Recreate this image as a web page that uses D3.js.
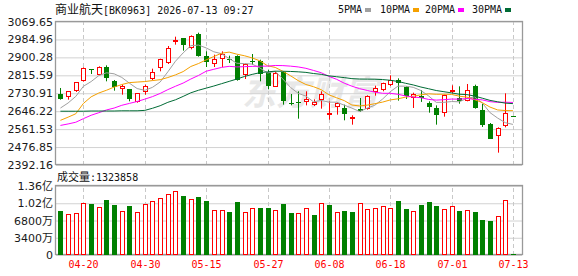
<!DOCTYPE html>
<html>
<head>
<meta charset="utf-8">
<script src="https://cdn.jsdelivr.net/npm/d3@7"></script>
<style>
body { margin: 0; background: #fff; }
text { font-family: "DejaVu Sans", sans-serif; }
</style>
</head>
<body>
<script>
const width = 578;
const height = 276;

// trading days shown
const dates = [
    "04-15", "04-16", "04-17", "04-20", "04-21", "04-22", "04-23", "04-24", "04-27", "04-28",
    "04-29", "04-30", "05-06", "05-07", "05-08", "05-11", "05-12", "05-13", "05-14", "05-15",
    "05-18", "05-19", "05-20", "05-21", "05-22", "05-25", "05-26", "05-27", "05-28", "05-29",
    "06-01", "06-02", "06-03", "06-04", "06-05", "06-08", "06-09", "06-10", "06-11", "06-12",
    "06-15", "06-16", "06-17", "06-18", "06-22", "06-23", "06-24", "06-25", "06-26", "06-29",
    "06-30", "07-01", "07-02", "07-03", "07-06", "07-07", "07-08", "07-09", "07-10", "07-13"
];
const tickDates = ["04-20", "04-30", "05-15", "05-27", "06-08", "06-18", "07-01", "07-13"];

const opens = [
    2727.4, 2711.6, 2740.0, 2787.2, 2843.8, 2818.6, 2856.4, 2787.2, 2749.4, 2751.0,
    2689.6, 2737.0, 2795.0, 2847.0, 2872.2, 2976.0, 2991.7, 2944.5, 3010.6, 2905.2,
    2869.0, 2891.0, 2891.0, 2906.8, 2818.6, 2884.7, 2884.7, 2831.2, 2760.4, 2831.2,
    2683.3, 2691.2, 2686.4, 2677.0, 2699.0, 2636.1, 2667.6, 2661.3, 2607.8, 2656.6,
    2656.6, 2733.7, 2746.3, 2766.7, 2795.0, 2760.4, 2705.3, 2716.0, 2684.9, 2661.3,
    2636.1, 2733.7, 2708.5, 2692.8, 2763.6, 2651.8, 2585.7, 2527.5, 2573.1, 2621.9
];
const highs = [
    2755.7, 2741.0, 2784.0, 2853.0, 2844.5, 2858.0, 2862.7, 2793.5, 2771.4, 2751.0,
    2732.0, 2771.4, 2847.0, 2894.0, 2954.0, 2998.0, 2991.7, 3004.3, 3016.9, 2928.8,
    2913.1, 2928.8, 2908.3, 2910.0, 2870.6, 2916.2, 2889.4, 2842.3, 2834.4, 2834.4,
    2727.4, 2740.0, 2740.0, 2702.2, 2740.0, 2692.8, 2689.6, 2677.0, 2626.7, 2708.5,
    2721.0, 2766.7, 2780.9, 2815.5, 2801.3, 2763.6, 2733.7, 2746.0, 2692.8, 2673.8,
    2724.2, 2768.3, 2763.6, 2774.6, 2771.4, 2680.1, 2590.4, 2570.0, 2730.5, 2621.9
];
const lows = [
    2700.6, 2700.6, 2737.0, 2785.6, 2821.8, 2817.0, 2787.2, 2743.1, 2724.2, 2692.8,
    2686.4, 2724.2, 2792.0, 2834.4, 2869.0, 2960.3, 2932.0, 2938.2, 2903.6, 2854.8,
    2854.8, 2854.8, 2873.7, 2790.3, 2798.2, 2866.0, 2787.2, 2749.4, 2760.4, 2677.0,
    2673.8, 2610.9, 2673.8, 2670.7, 2658.1, 2606.2, 2629.8, 2603.1, 2582.6, 2642.4,
    2653.4, 2719.5, 2740.0, 2765.1, 2695.9, 2703.8, 2661.3, 2690.0, 2639.2, 2582.6,
    2620.4, 2730.5, 2681.7, 2692.8, 2658.1, 2571.6, 2516.5, 2450.4, 2570.0, 2620.4
];
const closes = [
    2705.3, 2740.0, 2782.4, 2850.1, 2842.3, 2856.4, 2806.0, 2758.8, 2765.1, 2705.3,
    2730.5, 2763.6, 2829.6, 2891.0, 2944.5, 2982.3, 2960.3, 2999.6, 2905.2, 2876.9,
    2891.0, 2916.2, 2884.7, 2793.5, 2869.0, 2880.0, 2824.9, 2766.7, 2826.5, 2692.8,
    2680.1, 2686.4, 2702.2, 2689.6, 2727.4, 2639.2, 2684.9, 2633.0, 2618.8, 2647.1,
    2719.5, 2754.1, 2777.7, 2791.9, 2779.3, 2719.5, 2725.8, 2708.0, 2664.4, 2626.6,
    2721.1, 2744.7, 2695.9, 2744.7, 2661.3, 2579.4, 2516.5, 2566.8, 2636.1, 2620.4
];
// volume in 亿
const volumes = [
    0.865, 0.812, 0.825, 1.017, 1.003, 0.944, 1.083, 0.990, 0.865, 0.964,
    0.845, 1.003, 1.063, 1.122, 1.202, 1.261, 1.162, 1.102, 1.149, 1.063,
    0.885, 0.885, 0.845, 1.043, 0.845, 0.924, 0.924, 0.924, 0.885, 1.003,
    0.830, 0.819, 0.918, 0.786, 1.017, 0.990, 0.845, 0.865, 0.845, 1.017,
    0.898, 0.918, 0.957, 0.918, 1.063, 0.904, 0.865, 0.984, 1.043, 0.964,
    0.898, 0.964, 0.865, 0.878, 0.845, 0.687, 0.667, 0.766, 1.083, 0.020
];

const ma5 = [
    2661, 2685, 2716, 2764, 2786, 2814.2, 2827.4, 2822.7, 2805.7, 2778.3,
    2753.1, 2744.7, 2758.8, 2784.0, 2831.8, 2882.2, 2921.5, 2955.5, 2958.4, 2944.9,
    2926.6, 2917.8, 2894.8, 2872.5, 2870.9, 2868.7, 2850.4, 2826.8, 2833.4, 2798.2,
    2758.2, 2730.5, 2717.6, 2690.2, 2697.1, 2689.0, 2688.7, 2674.8, 2660.7, 2644.6,
    2660.7, 2674.5, 2703.4, 2738.1, 2764.5, 2764.5, 2758.8, 2743.7, 2718.2, 2687.7,
    2688.0, 2691.8, 2690.5, 2706.6, 2713.5, 2685.2, 2639.6, 2613.7, 2592.0, 2583.8
];
const ma10 = [
    2603, 2618, 2634, 2683, 2714, 2732, 2745, 2760, 2772, 2781.2,
    2783.7, 2786.1, 2790.8, 2794.9, 2805.1, 2817.7, 2833.1, 2857.2, 2871.2, 2888.4,
    2904.4, 2919.7, 2925.2, 2915.4, 2907.9, 2897.6, 2884.1, 2860.8, 2852.9, 2834.5,
    2813.4, 2790.5, 2772.2, 2761.8, 2747.7, 2723.6, 2709.6, 2696.2, 2675.4, 2670.9,
    2674.8, 2681.6, 2689.1, 2699.4, 2704.6, 2712.6, 2716.7, 2723.6, 2728.2, 2726.1,
    2726.3, 2725.3, 2717.1, 2712.4, 2700.6, 2686.6, 2665.7, 2652.1, 2649.3, 2648.7
];
const ma20 = [
    2579, 2586, 2594, 2611, 2627, 2639, 2652, 2661, 2674, 2683,
    2692, 2703, 2715, 2730, 2748, 2764, 2779, 2798, 2815, 2834.8,
    2844.0, 2852.9, 2858.0, 2855.1, 2856.5, 2857.7, 2858.6, 2859.0, 2862.1, 2861.4,
    2858.9, 2855.1, 2848.7, 2838.6, 2827.8, 2810.6, 2796.8, 2778.5, 2764.2, 2752.7,
    2744.1, 2736.0, 2730.7, 2730.6, 2726.1, 2718.1, 2713.1, 2709.9, 2701.8, 2698.5,
    2700.5, 2703.5, 2703.1, 2705.9, 2702.6, 2699.6, 2691.2, 2687.9, 2688.7, 2687.4
];
const ma30 = [
    2646, 2646, 2646, 2646, 2647, 2647, 2647, 2647, 2648, 2648,
    2648, 2650, 2660, 2672, 2688, 2700, 2716, 2733, 2745, 2755,
    2765, 2776, 2787, 2798, 2810, 2820, 2828, 2832, 2835, 2834.7,
    2833.8, 2832.1, 2829.4, 2824.0, 2820.2, 2813.0, 2808.9, 2804.7, 2799.9, 2797.9,
    2797.6, 2797.2, 2795.5, 2792.2, 2786.7, 2777.9, 2770.1, 2760.2, 2752.2, 2743.8,
    2738.2, 2732.5, 2726.2, 2724.5, 2717.6, 2707.6, 2697.3, 2690.6, 2684.3, 2681.9
];

const priceTicks = [2392.16, 2476.85, 2561.53, 2646.22, 2730.91, 2815.59, 2900.28, 2984.96, 3069.65];
const volTicks = [0, 0.34, 0.68, 1.02, 1.36];
const volTickLabels = ["0", "3400万", "6800万", "1.02亿", "1.36亿"];
const maNames = ["5PMA", "10PMA", "20PMA", "30PMA"];
const maColors = ["#a0a0a0", "#f5a000", "#ff00ff", "#006b35"];

const RED = "#ff0000";
const GREEN = "#008000";

let svg = d3.select('body')
    .append('svg')
    .attr('width', width)
    .attr('height', height);

svg.append('rect').attr('width', width).attr('height', height).attr('fill', '#fff');

const left = 56, right = 522;
const pTop = 21.5, pBottom = 165;
const vTop = 186, vBottom = 255;

let x = d3.scaleBand()
    .domain(dates)
    .range([56.6, 516.8]);
let y = d3.scaleLinear()
    .domain([priceTicks[0], priceTicks[priceTicks.length - 1]])
    .range([pBottom, pTop]);
let yv = d3.scaleLinear()
    .domain([0, 1.36])
    .range([vBottom, vTop]);

const cx = d => Math.round(x(d) + x.bandwidth() / 2) + 0.5;

// watermark
svg.append('text')
    .attr('x', 242)
    .attr('y', 105)
    .attr('font-size', 34)
    .attr('font-weight', 'bold')
    .attr('font-style', 'italic')
    .style('font-family', '"Noto Sans CJK SC"')
    .attr('fill', '#e8e8e8')
    .text('东方财富');

// horizontal grid
let pGrid = svg.append('g')
    .attr('transform', `translate(${left},0)`)
    .call(d3.axisLeft(y).tickValues(priceTicks).tickSize(-(right - left)).tickFormat(''));
let vGrid = svg.append('g')
    .attr('transform', `translate(${left},0)`)
    .call(d3.axisLeft(yv).tickValues(volTicks).tickSize(-(right - left)).tickFormat(''));
svg.selectAll('.tick line').attr('stroke', '#d2d2d2');
pGrid.select('.domain').remove();
vGrid.select('.domain').remove();

// vertical dashed grid
[[pTop, pBottom], [vTop, vBottom]].forEach(([t, b]) => {
    let g = svg.append('g')
        .attr('transform', `translate(0,${b})`)
        .call(d3.axisBottom(x).tickValues(tickDates).tickSize(-(b - t)).tickFormat(''));
    g.select('.domain').remove();
    g.selectAll('.tick')
        .attr('transform', d => `translate(${cx(d)},0)`);
    g.selectAll('.tick line')
        .attr('stroke', '#c8c8c8')
        .attr('stroke-dasharray', '4,3');
});

// frames
[[pTop, pBottom], [vTop, vBottom]].forEach(([t, b]) => {
    svg.append('rect')
        .attr('x', left - 0.5)
        .attr('y', Math.round(t) - 0.5)
        .attr('width', right - left + 1)
        .attr('height', Math.round(b) - Math.round(t))
        .attr('fill', 'none')
        .attr('stroke', '#999')
        .attr('stroke-width', 1.3);
});

// y axes
let yAxisGroup = svg.append('g')
    .attr('transform', `translate(${left},0)`)
    .call(d3.axisLeft(y).tickValues(priceTicks).tickSize(0).tickPadding(3).tickFormat(d3.format('.2f')));
let yvAxisGroup = svg.append('g')
    .attr('transform', `translate(${left},0)`)
    .call(d3.axisLeft(yv).tickValues(volTicks).tickSize(0).tickPadding(3)
        .tickFormat((d, i) => volTickLabels[i]));
[yAxisGroup, yvAxisGroup].forEach(g => {
    g.select('.domain').remove();
    g.selectAll('text')
        .attr('fill', '#1a1a1a')
        .style('font-family', '"DejaVu Sans", "Noto Sans CJK SC"')
        .style('font-size', '11px');
});

// x axis
let xAxisGroup = svg.append('g')
    .attr('transform', `translate(0,${vBottom})`)
    .call(d3.axisBottom(x).tickValues(tickDates).tickSize(0).tickPadding(6));
xAxisGroup.select('.domain').remove();
xAxisGroup.selectAll('.tick')
    .attr('transform', d => `translate(${cx(d)},0)`);
xAxisGroup.selectAll('text')
    .attr('fill', RED)
    .style('font-family', '"DejaVu Sans Mono", monospace')
    .style('font-size', '10px');

// candles
let candles = svg.append('g').classed('candles', true)
    .selectAll('g')
    .data(dates.map((d, i) => ({ d, o: opens[i], h: highs[i], l: lows[i], c: closes[i] })))
    .enter()
    .append('g');

candles.append('line')
    .attr('x1', p => cx(p.d))
    .attr('x2', p => cx(p.d))
    .attr('y1', p => y(p.h))
    .attr('y2', p => y(p.l))
    .attr('stroke', p => p.c > p.o ? RED : GREEN);

candles.append('rect')
    .attr('x', p => p.c > p.o ? cx(p.d) - 2 : cx(p.d) - 2.5)
    .attr('width', p => p.c > p.o ? 4 : 5)
    .attr('y', p => p.c > p.o ? Math.round(y(p.c)) + 0.5 : Math.round(y(p.o)))
    .attr('height', p => Math.max(1, Math.round(Math.abs(y(p.o) - y(p.c))) - (p.c > p.o ? 1 : 0)))
    .attr('fill', p => p.c > p.o ? '#fff' : GREEN)
    .attr('stroke', p => p.c > p.o ? RED : 'none');

// moving averages
const maLine = d3.line()
    .x((v, i) => x(dates[i]) + x.bandwidth() / 2)
    .y(v => y(v));
[ma5, ma10, ma20, ma30].forEach((arr, k) => {
    svg.append('path')
        .datum(arr)
        .attr('d', maLine)
        .attr('fill', 'none')
        .attr('stroke', maColors[k])
        .attr('stroke-width', 1);
});

// volume bars, coloured by change from previous close
let bars = svg.append('g').classed('volume', true)
    .selectAll('rect')
    .data(dates.map((d, i) => ({
        d, v: volumes[i],
        up: i === 0 ? closes[i] > opens[i] : closes[i] >= closes[i - 1]
    })))
    .enter()
    .append('rect')
    .attr('x', p => p.up ? cx(p.d) - 2 : cx(p.d) - 2.5)
    .attr('width', p => p.up ? 4 : 5)
    .attr('y', p => p.up ? Math.round(yv(p.v)) + 0.5 : Math.round(yv(p.v)))
    .attr('height', p => Math.max(1, Math.round(vBottom - yv(p.v)) - (p.up ? 1 : 0)))
    .attr('fill', p => p.up ? '#fff' : GREEN)
    .attr('stroke', p => p.up ? RED : 'none');

// title
let title = svg.append('text')
    .attr('x', 55)
    .attr('y', 13.5)
    .attr('fill', '#111');
title.append('tspan')
    .style('font-family', '"Noto Sans CJK SC"')
    .style('font-size', '12px')
    .text('商业航天');
title.append('tspan')
    .style('font-family', '"DejaVu Sans Mono", monospace')
    .style('font-size', '10px')
    .text('[BK0963] 2026-07-13 09:27');

// legend
const legendX = [338, 380, 425, 472];
maNames.forEach((name, k) => {
    svg.append('text')
        .attr('x', legendX[k])
        .attr('y', 13)
        .attr('fill', '#111')
        .style('font-family', '"DejaVu Sans Mono", monospace')
        .style('font-size', '10px')
        .text(name);
    svg.append('rect')
        .attr('x', legendX[k] + name.length * 6 + 3)
        .attr('y', 8)
        .attr('width', 6)
        .attr('height', 4)
        .attr('fill', maColors[k]);
});

// volume caption
let volTitle = svg.append('text')
    .attr('x', 57)
    .attr('y', 181)
    .attr('fill', '#111');
volTitle.append('tspan')
    .style('font-family', '"Noto Sans CJK SC"')
    .style('font-size', '11px')
    .text('成交量');
volTitle.append('tspan')
    .style('font-family', '"DejaVu Sans Mono", monospace')
    .style('font-size', '10px')
    .text(':1323858');
</script>
</body>
</html>
